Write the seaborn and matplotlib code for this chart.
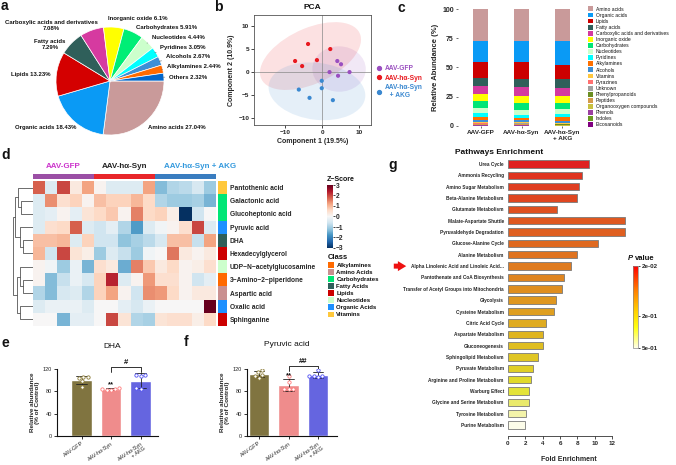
import numpy as np
import pandas as pd
import matplotlib
matplotlib.use('Agg')
import matplotlib.pyplot as plt
import matplotlib.colors as mcolors
import matplotlib.transforms as mtransforms
from matplotlib.patches import Ellipse, Patch
from matplotlib.lines import Line2D
import seaborn as sns

# ---------------- data ----------------
# a: pie of metabolite classes
pie_names = ['Amino acids', 'Organic acids', 'Lipids', 'Fatty acids',
             'Carboxylic acids and derivatives', 'Inorganic oxide', 'Carbohydrates',
             'Nucleotides', 'Pyridines', 'Alcohols', 'Alkylamines', 'Others']
pie_pct = [27.04, 18.43, 13.23, 7.29, 7.08, 6.1, 5.91, 4.44, 3.05, 2.67, 2.44, 2.32]
pie_pct_text = ['27.04%', '18.43%', '13.23%', '7.29%', '7.08%', '6.1%', '5.91%',
                '4.44%', '3.05%', '2.67%', '2.44%', '2.32%']
pie_colors = ['#C99A9A', '#0A9AF5', '#D40000', '#2F5F5A', '#D63AA0', '#FFFF00',
              '#00EE76', '#CCFFCC', '#00FFFF', '#3D8FD6', '#FF6A00', '#0066CC']

# b: PCA scores
pca_group = ['AAV-GFP'] * 5 + ['AAV-hα-Syn'] * 5 + ['AAV-hα-Syn + AKG'] * 5
pca_x = [4.1, 5.1, 2.0, 7.4, 4.3, -3.8, 2.2, -7.3, -1.4, -5.4, -0.1, -6.3, -0.1, -3.4, 2.9]
pca_y = [2.4, 1.7, 0.0, 0.0, -0.8, 6.1, 5.0, 2.4, 2.6, 1.3, -1.9, -3.8, -3.5, -5.6, -6.1]
pca_groups = ['AAV-GFP', 'AAV-hα-Syn', 'AAV-hα-Syn + AKG']
pca_colors = ['#9A4FC0', '#E8191F', '#3A88D0']

# c: relative abundance by class (legend order, top of stack first)
comp_classes = ['Amino acids', 'Organic acids', 'Lipids', 'Fatty acids',
                'Carboxylic acids and derivatives', 'Inorganic oxide', 'Carbohydrates',
                'Nucleotides', 'Pyridines', 'Alkylamines', 'Alcohols', 'Vitamins',
                'Pyrazines', 'Unknown', 'Phenylpropanoids', 'Peptides',
                'Organooxygen compounds', 'Phenols', 'Indoles', 'Eicosanoids']
comp_colors = ['#C99A9A', '#0A9AF5', '#CC0000', '#2F5F5A', '#D43A9F', '#FFFF00',
               '#00E676', '#CCFFCC', '#00FFFF', '#FF7000', '#3D8FD6', '#FFC840',
               '#FF7070', '#A0A0A0', '#6B8E23', '#D49A4A', '#C8C040', '#9B3FA0',
               '#6A9A20', '#800080']
comp_groups = ['AAV-GFP', 'AAV-hα-Syn', 'AAV-hα-Syn\n+ AKG']
comp_gfp = [27.7, 17.5, 13.5, 7.5, 6.5, 6.3, 5.8, 4.5, 3.4, 2.0, 1.8, 1.0,
            0.4, 0.3, 0.3, 0.5, 0.4, 0.2, 0.2, 0.2]
comp_syn = [27.7, 17.7, 14.2, 7.4, 7.0, 6.1, 6.0, 4.4, 2.3, 1.8, 1.7, 1.0,
            0.4, 0.4, 0.3, 0.5, 0.5, 0.2, 0.2, 0.2]
comp_akg = [27.3, 20.4, 12.3, 7.1, 7.2, 5.8, 5.6, 4.2, 2.0, 3.5, 1.8, 0.8,
            0.3, 0.3, 0.3, 0.4, 0.4, 0.1, 0.1, 0.1]

# d: heatmap of z-scores
hm_rows = ['Pantothenic acid', 'Galactonic acid', 'Glucoheptonic acid', 'Pyruvic acid',
           'DHA', 'Hexadecylglycerol', 'UDP−N−acetylglucosamine',
           '3−Amino−2−piperidone', 'Aspartic acid', 'Oxalic acid', 'Sphinganine']
hm_row_class = ['Vitamins', 'Carbohydrates', 'Carbohydrates', 'Organic Acids',
                'Fatty Acids', 'Lipids', 'Nucleotides', 'Alkylamines', 'Amino Acids',
                'Organic Acids', 'Lipids']
hm_classes = ['Alkylamines', 'Amino Acids', 'Carbohydrates', 'Fatty Acids', 'Lipids',
              'Nucleotides', 'Organic Acids', 'Vitamins']
hm_class_colors = ['#FF6A00', '#C99090', '#00E676', '#2F5F5A', '#CC0000',
                   '#CCFFCC', '#1E90FF', '#FFC83C']
hm_groups = ['AAV-GFP'] * 5 + ['AAV-hα-Syn'] * 5 + ['AAV-hα-Syn + AKG'] * 5
hm_values = [
    [1.8, -0.4, 2.0, 0.3, 1.2, 0.1, -0.4, -0.4, -0.4, 1.2, -1.3, -0.9, -0.8, -0.5, -1.1],
    [-0.4, 1.4, 0.5, 0.7, 0.1, 0.9, 0.7, 0.7, 1.0, 0.6, -0.9, -1.1, -1.1, -1.0, -1.4],
    [-0.4, -0.3, 0.1, -0.3, 0.4, 0.6, 0.8, 0.1, 1.5, 0.6, 0.7, 0.2, -3.0, -0.6, 0.0],
    [-0.4, 0.5, 0.6, 1.8, -0.4, -0.6, -0.3, -0.9, -1.7, -0.4, -0.1, 0.1, 0.5, 2.0, -0.4],
    [0.9, 0.9, 1.0, -0.4, 0.7, -0.6, -0.6, -1.2, -1.0, -0.8, -0.5, 0.9, 0.9, -0.7, 1.2],
    [1.0, -0.6, 2.0, 0.4, 0.2, -1.1, -0.4, -0.7, -1.1, -0.1, 0.0, 1.6, 0.3, 0.1, 0.3],
    [0.1, -0.1, -1.1, -0.2, -1.4, 0.5, 0.3, -1.5, 1.5, 0.8, 0.3, 0.6, 0.1, 0.2, 0.5],
    [0.1, -1.3, -0.7, -0.2, -0.5, 0.7, 2.3, -0.4, 0.1, 1.3, 0.5, 0.5, 0.1, -0.6, -0.3],
    [-0.9, -1.3, -0.5, -0.4, -0.9, 0.7, 1.2, 0.1, -0.6, 1.4, 1.3, 0.6, 0.1, 0.3, 0.3],
    [-0.4, -0.2, -0.2, -0.2, -0.4, 0.0, 0.0, -0.3, -0.5, -0.2, 0.0, 0.0, 0.0, 0.0, 3.0],
    [0.0, 0.0, -1.4, -0.3, -0.3, 0.0, 2.0, 0.4, -0.9, -1.0, 0.4, 0.5, 0.5, 0.2, 0.6],
]
# row dendrogram: (height, left, right), leaves are row indices
hm_tree = (62, (55, (45, 0, (37, 1, 2)), (40, 3, (32, 4, 5))),
           (50, (40, 6, (30, 7, 8)), (40, 9, 10)))

# e, f: single metabolites (% of control), 5 animals per group
bar_groups = ['AAV-GFP', 'AAV-hα-Syn', 'AAV-hα-Syn\n+ AKG']
bar_colors = ['#8B7B35', '#FF7B7B', '#5050F5']
dha_vals = [106, 105, 104, 88, 98, 82, 84, 85, 83, 86, 109, 109, 108, 86, 85]
pyr_vals = [118, 114, 110, 104, 107, 108, 96, 84, 85, 84, 118, 108, 107, 106, 107]

# g: pathway enrichment
pathways = ['Urea Cycle', 'Ammonia Recycling', 'Amino Sugar Metabolism',
            'Beta-Alanine Metabolism', 'Glutamate Metabolism', 'Malate-Aspartate Shuttle',
            'Pyruvaldehyde Degradation', 'Glucose-Alanine Cycle', 'Alanine Metabolism',
            'Alpha Linolenic Acid and Linoleic Acid...', 'Pantothenate and CoA Biosynthesis',
            'Transfer of Acetyl Groups into Mitochondria', 'Glycolysis',
            'Cysteine Metabolism', 'Citric Acid Cycle', 'Aspartate Metabolism',
            'Gluconeogenesis', 'Sphingolipid Metabolism', 'Pyruvate Metabolism',
            'Arginine and Proline Metabolism', 'Warburg Effect',
            'Glycine and Serine Metabolism', 'Tyrosine Metabolism', 'Purine Metabolism']
fold_enrich = [9.35, 8.5, 8.2, 8.0, 5.6, 13.5, 13.5, 10.35, 8.0, 7.2, 6.5, 6.25,
               5.5, 5.3, 4.4, 4.07, 4.07, 3.5, 2.9, 2.7, 2.46, 2.46, 2.07, 2.0]
p_values = [0.020, 0.022, 0.024, 0.027, 0.031, 0.035, 0.039, 0.045, 0.052, 0.060,
            0.070, 0.082, 0.095, 0.110, 0.130, 0.150, 0.170, 0.195, 0.225, 0.260,
            0.300, 0.350, 0.420, 0.500]

# ---------------- figure ----------------
sns.set_theme(style='white')
plt.rcParams['font.family'] = ['Liberation Sans', 'DejaVu Sans']
plt.rcParams['axes.linewidth'] = 0.6
plt.rcParams['xtick.major.width'] = 0.6
plt.rcParams['ytick.major.width'] = 0.6
plt.rcParams['xtick.major.size'] = 2
plt.rcParams['ytick.major.size'] = 2
plt.rcParams['xtick.major.pad'] = 1.5
plt.rcParams['ytick.major.pad'] = 1.5
plt.rcParams['text.color'] = '#111111'

W, H = 676, 465
fig = plt.figure(figsize=(W / 100, H / 100), dpi=100)
fig.patch.set_facecolor('white')


def box(l, t, r, b):
    return fig.add_axes([l / W, 1 - b / H, (r - l) / W, (b - t) / H])


def ftext(x, y, s, **kw):
    return fig.text(x / W, 1 - y / H, s, **kw)


for letter, lx, ly in [('a', 1, 6), ('b', 214, 7), ('c', 398, 8), ('d', 1, 155),
                       ('e', 1, 343), ('f', 184, 342), ('g', 388, 165)]:
    ftext(lx, ly, letter, fontsize=10, fontweight='bold', va='center', ha='left')

# ---- a: pie ----
ax_a = box(56, 27, 164, 135)
wedges, _ = ax_a.pie(pie_pct, colors=pie_colors, startangle=0, counterclock=False,
                     wedgeprops=dict(edgecolor='white', linewidth=0.5))
ax_a.set_xlim(-1, 1)
ax_a.set_ylim(-1, 1)
pie_text_pos = {
    'Amino acids': (0.70, -0.87, 'left'), 'Organic acids': (-0.63, -0.87, 'right'),
    'Lipids': (-1.11, 0.12, 'right'), 'Fatty acids': (-1.11, 0.68, 'center'),
    'Carboxylic acids and derivatives': (-1.09, 1.03, 'center'),
    'Inorganic oxide': (-0.04, 1.16, 'left'), 'Carbohydrates': (0.48, 0.99, 'left'),
    'Nucleotides': (0.77, 0.80, 'left'), 'Pyridines': (0.93, 0.62, 'left'),
    'Alcohols': (1.03, 0.45, 'left'), 'Alkylamines': (1.05, 0.27, 'left'),
    'Others': (1.09, 0.07, 'left')}
two_line = ['Fatty acids', 'Carboxylic acids and derivatives']
leader = ['Nucleotides', 'Pyridines', 'Alcohols', 'Alkylamines', 'Others']
for w, name, pct in zip(wedges, pie_names, pie_pct_text):
    tx, ty, ha = pie_text_pos[name]
    label = f'{name}\n{pct}' if name in two_line else f'{name} {pct}'
    mid = np.radians((w.theta1 + w.theta2) / 2)
    if name in leader:
        ax_a.annotate(label, xy=(0.98 * np.cos(mid), 0.98 * np.sin(mid)), xytext=(tx, ty),
                      ha=ha, va='center', fontsize=4.3, fontweight='bold',
                      arrowprops=dict(arrowstyle='-', color='#666666', lw=0.4,
                                      shrinkA=0.5, shrinkB=0))
    else:
        ax_a.text(tx, ty, label, ha=ha, va='center', fontsize=4.3, fontweight='bold',
                  multialignment='center')

# ---- b: PCA ----
ax_b = box(254, 15, 371, 125)
pca_df = pd.DataFrame({'x': pca_x, 'y': pca_y, 'group': pca_group})
for g, c in zip(pca_groups, pca_colors):
    sub = pca_df[pca_df['group'] == g]
    cov = np.cov(sub['x'], sub['y'])
    vals, vecs = np.linalg.eigh(cov)
    ang = np.degrees(np.arctan2(vecs[1, 1], vecs[0, 1]))
    k = 3.7
    ax_b.add_patch(Ellipse((sub['x'].mean(), sub['y'].mean()), 2 * k * np.sqrt(vals[1]),
                           2 * k * np.sqrt(vals[0]), angle=ang, facecolor=c, alpha=0.13,
                           edgecolor='none', zorder=0))
ax_b.axhline(0, color='#888888', lw=0.5, zorder=1)
ax_b.axvline(0, color='#888888', lw=0.5, zorder=1)
sns.scatterplot(data=pca_df, x='x', y='y', hue='group', palette=pca_colors, s=9,
                edgecolor='none', legend=False, ax=ax_b, zorder=3)
ax_b.set_xlim(-18.4, 13.2)
ax_b.set_ylim(-11.5, 12.4)
ax_b.set_xticks([-10, 0, 10])
ax_b.set_yticks([-10, -5, 0, 5, 10])
ax_b.tick_params(labelsize=4.6, length=2, left=True, bottom=True)
for t in ax_b.get_xticklabels() + ax_b.get_yticklabels():
    t.set_fontweight('bold')
for s in ax_b.spines.values():
    s.set_color('#555555')
ax_b.set_xlabel('Component 1 (19.5%)', fontsize=5, fontweight='bold', labelpad=2)
ax_b.set_ylabel('Component 2 (10.9%)', fontsize=5, fontweight='bold', labelpad=2)
ax_b.set_title('PCA', fontsize=6, fontweight='bold', pad=4)
pca_handles = [Line2D([], [], marker='o', ls='none', color=c, markersize=2.8)
               for c in pca_colors]
ax_b.legend(pca_handles, ['AAV-GFP', 'AAV-hα-Syn', 'AAV-hα-Syn\n   + AKG'],
            loc='upper left', bbox_to_anchor=(373 / W, 1 - 62 / H),
            bbox_transform=fig.transFigure, frameon=False, handlelength=0.8,
            handletextpad=0.4, labelspacing=0.35, borderpad=0,
            prop={'size': 4.8, 'weight': 'bold'}, labelcolor=pca_colors)

# ---- c: stacked composition ----
ax_c = box(458, 9, 585, 126)
comp_df = pd.DataFrame({'class': comp_classes, comp_groups[0]: comp_gfp,
                        comp_groups[1]: comp_syn, comp_groups[2]: comp_akg})
bottom = np.zeros(3)
for cls, col in zip(comp_classes[::-1], comp_colors[::-1]):
    vals = comp_df.loc[comp_df['class'] == cls, comp_groups].values[0]
    ax_c.bar(np.arange(3), vals, bottom=bottom, width=0.37, color=col, linewidth=0)
    bottom += vals
ax_c.set_xlim(-0.55, 2.55)
ax_c.set_ylim(0, 100)
ax_c.set_xticks(np.arange(3))
ax_c.set_xticklabels(comp_groups, fontsize=4.6, fontweight='bold')
ax_c.set_yticks([0, 25, 50, 75, 100])
ax_c.set_yticklabels(['0', '25', '50', '75', '100'], fontsize=5, fontweight='bold')
ax_c.tick_params(length=1.5, left=True, bottom=True, color='#555555')
for s in ax_c.spines.values():
    s.set_visible(False)
ax_c.set_ylabel('Relative Abundance (%)', fontsize=5.5, fontweight='bold', labelpad=2)
comp_handles = [Patch(facecolor=c, edgecolor='none') for c in comp_colors]
ax_c.legend(comp_handles, comp_classes, loc='upper left',
            bbox_to_anchor=(585 / W, 1 - 4 / H), bbox_transform=fig.transFigure,
            frameon=False, fontsize=3.6, handlelength=1.1, handleheight=1.1,
            handletextpad=0.5, labelspacing=0.2, borderpad=0)

# ---- d: heatmap ----
ax_den = box(12, 181, 33, 326)
ax_hm = box(33, 181, 216, 326)
ax_head = box(33, 174, 216, 179)
ax_cls = box(218, 181, 227, 326)
cax_z = box(327, 185, 333, 248)

hm_df = pd.DataFrame(hm_values, index=hm_rows)
sns.heatmap(hm_df, ax=ax_hm, cmap='RdBu_r', vmin=-3, vmax=3, cbar_ax=cax_z,
            xticklabels=False, yticklabels=False)
cax_z.set_yticks([-3, -2, -1, 0, 1, 2, 3])
cax_z.tick_params(labelsize=4.8, length=1.2, pad=1)
for t in cax_z.get_yticklabels():
    t.set_fontweight('bold')
ftext(327, 179, 'Z−Score', fontsize=5, fontweight='bold', va='center', ha='left')

group_codes = [pca_groups.index(g) for g in hm_groups]
sns.heatmap([group_codes], ax=ax_head, cmap=mcolors.ListedColormap(['#9B4FA5', '#E8262A', '#3A7DC0']),
            vmin=-0.5, vmax=2.5, cbar=False, xticklabels=False, yticklabels=False)
for g, gx, col in [('AAV-GFP', 2.5, '#CC33CC'), ('AAV-hα-Syn', 7.5, '#222222'),
                   ('AAV-hα-Syn + AKG', 13.7, '#3399DD')]:
    ax_head.text(gx, -1.6, g, ha='center', va='center', fontsize=5.8,
                 fontweight='bold', color=col, clip_on=False)

cls_codes = [[hm_classes.index(c)] for c in hm_row_class]
sns.heatmap(cls_codes, ax=ax_cls, cmap=mcolors.ListedColormap(hm_class_colors),
            vmin=-0.5, vmax=len(hm_classes) - 0.5, cbar=False, xticklabels=False)
ax_cls.yaxis.tick_right()
ax_cls.set_yticks(np.arange(len(hm_rows)) + 0.5)
ax_cls.set_yticklabels(hm_rows, rotation=0, fontsize=4.8, fontweight='bold')
ax_cls.tick_params(axis='y', length=0, pad=2)


def draw_tree(node):
    if isinstance(node, int):
        return node + 0.5, 0
    h, left, right = node
    y1, h1 = draw_tree(left)
    y2, h2 = draw_tree(right)
    ax_den.plot([h1, h, h, h2], [y1, y1, y2, y2], color='#555555', lw=0.6)
    return (y1 + y2) / 2, h


draw_tree(hm_tree)
ax_den.set_xlim(64, 0)
ax_den.set_ylim(len(hm_rows), 0)
ax_den.axis('off')

cls_handles = [Patch(facecolor=c, edgecolor='none') for c in hm_class_colors]
fig.legend(cls_handles, hm_classes, title='Class', loc='upper left',
           bbox_to_anchor=(325 / W, 1 - 251 / H), frameon=False, fontsize=4.3,
           handlelength=1.0, handleheight=1.0, handletextpad=0.4, labelspacing=0.22,
           borderpad=0, alignment='left',
           title_fontproperties={'size': 5.5, 'weight': 'bold'},
           prop={'size': 4.3, 'weight': 'bold'})


# ---- e, f: bar + points ----
def bar_panel(ax, vals, title, tx, ty, mark_star, mark_hash):
    df = pd.DataFrame({'group': np.repeat(bar_groups, 5), 'val': vals})
    sns.barplot(data=df, x='group', y='val', hue='group', palette=bar_colors,
                order=bar_groups, errorbar='sd', capsize=0.35, width=0.7,
                err_kws={'linewidth': 0.6, 'color': '#222222'}, legend=False, ax=ax)
    for g, c in zip(bar_groups, bar_colors):
        sns.swarmplot(data=df[df['group'] == g], x='group', y='val', order=bar_groups,
                      color='white', edgecolor=c, linewidth=0.6, size=2.4, ax=ax)
    stats = df.groupby('group', sort=False)['val'].agg(['mean', 'std'])
    top = stats['mean'] + stats['std']
    ax.text(1, top.iloc[1] + 0.5, mark_star, ha='center', va='bottom', fontsize=5.5,
            fontweight='bold')
    y_drop = max(top.iloc[1], top.iloc[2]) + 2
    y_br = y_drop + 10
    ax.plot([1, 1, 2, 2], [y_drop, y_br, y_br, y_drop], color='#111111', lw=0.6,
            clip_on=False)
    ax.text(1.5, y_br + 1.5, mark_hash, ha='center', va='bottom', fontsize=5.5,
            fontweight='bold')
    ax.set_ylim(0, 120)
    ax.set_yticks([0, 40, 80, 120])
    ax.tick_params(labelsize=4, length=2, left=True, bottom=True, color='#111111')
    for s in ['top', 'right']:
        ax.spines[s].set_visible(False)
    for s in ['left', 'bottom']:
        ax.spines[s].set_color('#111111')
        ax.spines[s].set_linewidth(0.8)
    ax.set_xticks(np.arange(3))
    ax.set_xticklabels(bar_groups, rotation=35, ha='right', rotation_mode='anchor',
                       fontsize=3.9)
    ax.set_xlabel('')
    ax.set_ylabel('Relative abundance\n(% of Control)', fontsize=4.6, fontweight='bold',
                  labelpad=2, linespacing=1.1)
    ftext(tx, ty, title, fontsize=6, ha='center', va='center')


ax_e = box(57, 369, 158, 436)
bar_panel(ax_e, dha_vals, 'DHA', 112, 347, '**', '#')
ax_e.set_xlim(-0.83, 2.59)
ax_f = box(247, 369, 337, 436)
bar_panel(ax_f, pyr_vals, 'Pyruvic acid', 287, 344, '**', '##')
ax_f.set_xlim(-0.41, 2.64)

# ---- g: pathway enrichment ----
ax_g = box(508, 158, 629.6, 431)
p_norm = mcolors.PowerNorm(0.5, vmin=0.02, vmax=0.5)
p_cmap = mcolors.LinearSegmentedColormap.from_list(
    'pv', [(0, '#FF0000'), (0.3, '#FF8000'), (0.55, '#FFD000'), (0.75, '#FFFF10'),
           (1, '#FFFFE6')])
path_df = pd.DataFrame({'pathway': pathways, 'fold': fold_enrich, 'p': p_values})
path_colors = [p_cmap(p_norm(p)) for p in path_df['p']]
sns.barplot(data=path_df, x='fold', y='pathway', hue='pathway', palette=path_colors,
            legend=False, width=0.65, edgecolor='#7A7A7A', linewidth=0.6, ax=ax_g)
ax_g.set_ylim(len(pathways) - 0.47, -0.53)
ax_g.set_xlim(0, 14)
ax_g.set_xticks(np.arange(0, 13, 2))
ax_g.spines['bottom'].set_bounds(0, 12)
ax_g.spines['bottom'].set_position(('outward', 3.6))
ax_g.spines['bottom'].set_color('#333333')
for s in ['top', 'right', 'left']:
    ax_g.spines[s].set_visible(False)
ax_g.tick_params(axis='x', labelsize=4.5, length=2, bottom=True, color='#333333')
ax_g.tick_params(axis='y', labelsize=3.4, length=0, pad=3)
for t in ax_g.get_xticklabels() + ax_g.get_yticklabels():
    t.set_fontweight('bold')
ax_g.set_ylabel('')
ax_g.set_xlabel('Fold Enrichment', fontsize=5, fontweight='bold', labelpad=7)
ftext(499, 152, 'Pathways Enrichment', fontsize=6, fontweight='bold', ha='center',
      va='center')
arrow_row = pathways.index('Alpha Linolenic Acid and Linoleic Acid...')
arrow_tr = mtransforms.blended_transform_factory(fig.transFigure, ax_g.transData)
ax_g.annotate('', xy=(409 / W, arrow_row), xytext=(391 / W, arrow_row),
              xycoords=arrow_tr, textcoords=arrow_tr,
              arrowprops=dict(arrowstyle='simple,head_length=0.5,head_width=0.6,tail_width=0.3',
                              color='#EE1111', lw=0))

cax_p = box(633, 266, 638, 348)
sm = plt.cm.ScalarMappable(norm=p_norm, cmap=p_cmap)
cb = fig.colorbar(sm, cax=cax_p, ticks=[0.02, 0.2, 0.5])
cax_p.invert_yaxis()
cb.set_ticklabels(['2e-02', '2e-01', '5e-01'])
cb.outline.set_edgecolor('#888888')
cb.outline.set_linewidth(0.5)
cax_p.tick_params(labelsize=4.5, length=1.5, pad=1.5)
for t in cax_p.get_yticklabels():
    t.set_fontweight('bold')
ftext(628, 258, 'P', fontsize=5.5, fontweight='bold', fontstyle='italic', va='center')
ftext(634.5, 258, 'value', fontsize=5.5, fontweight='bold', va='center')

fig.savefig('out.png', dpi=100, facecolor='white')
